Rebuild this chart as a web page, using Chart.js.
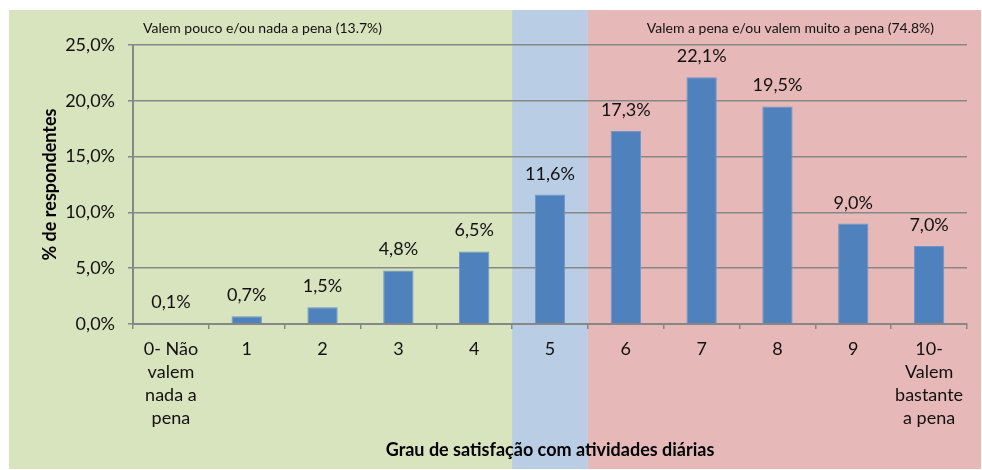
<!DOCTYPE html>
<html>
<head>
<meta charset="utf-8">
<script src="https://cdn.jsdelivr.net/npm/chart.js@4"></script>
<style>
  html, body { margin: 0; padding: 0; background: #fff; }
  #wrap { width: 982px; height: 470px; }
</style>
</head>
<body>
<div id="wrap"><canvas id="myChart" width="982" height="470"></canvas></div>
<script>
// Chart data
const categories = [
  ['0- Não', 'valem', 'nada a', 'pena'],
  '1', '2', '3', '4', '5', '6', '7', '8', '9',
  ['10-', 'Valem', 'bastante', 'a pena']
];
const percentValues = [0.1, 0.7, 1.5, 4.8, 6.5, 11.6, 17.3, 22.1, 19.5, 9.0, 7.0];
const yTicks = [0, 5, 10, 15, 20, 25];
const groupNotes = ['Valem pouco e/ou nada a pena (13.7%)', 'Valem a pena e/ou valem muito a pena (74.8%)'];
const xTitle = 'Grau de satisfação com atividades diárias';
const yTitle = '% de respondentes';

const FONT = 'Lato, "Open Sans", sans-serif';
const GRID = '#878787';
const TEXT = '#111';

function pct(v) {
  return v.toFixed(1).replace('.', ',') + '%';
}

// Coloured bands behind the chart + group notes on top
const bandsPlugin = {
  id: 'bands',
  beforeDraw(chart) {
    const ctx = chart.ctx;
    const x = chart.scales.x;
    const b1 = (x.getPixelForValue(4) + x.getPixelForValue(5)) / 2;
    const b2 = (x.getPixelForValue(5) + x.getPixelForValue(6)) / 2;
    const top = 10, bottom = chart.height - 1, left = 9, right = chart.width - 1;
    ctx.save();
    ctx.fillStyle = '#d7e4bd';
    ctx.fillRect(left, top, b1 - left, bottom - top);
    ctx.fillStyle = '#b9cde5';
    ctx.fillRect(b1, top, b2 - b1, bottom - top);
    ctx.fillStyle = '#e6b9b8';
    ctx.fillRect(b2, top, right - b2, bottom - top);

    ctx.fillStyle = TEXT;
    ctx.font = '14px ' + FONT;
    ctx.textAlign = 'center';
    ctx.textBaseline = 'middle';
    ctx.fillText(groupNotes[0], (left + b1) / 2 + 2, 28);
    ctx.fillText(groupNotes[1], (b2 + right) / 2 + 6, 28);
    ctx.restore();
  },
  afterDatasetsDraw(chart) {
    const ctx = chart.ctx;
    const meta = chart.getDatasetMeta(0);
    ctx.save();
    ctx.fillStyle = TEXT;
    ctx.font = '18px ' + FONT;
    ctx.textAlign = 'center';
    ctx.textBaseline = 'alphabetic';
    meta.data.forEach((bar, i) => {
      ctx.fillText(pct(percentValues[i]), bar.x, bar.y - 15);
    });
    ctx.restore();
  }
};

const ctx = document.getElementById('myChart').getContext('2d');
new Chart(ctx, {
  type: 'bar',
  data: {
    labels: categories,
    datasets: [{
      data: percentValues,
      backgroundColor: '#4f81bd',
      borderColor: '#7096c8',
      borderWidth: 1,
      categoryPercentage: 1,
      barPercentage: 0.4
    }]
  },
  options: {
    responsive: false,
    animation: false,
    layout: { padding: { left: 0, right: 15, top: 45, bottom: 0 } },
    plugins: {
      legend: { display: false },
      tooltip: { enabled: false }
    },
    scales: {
      x: {
        afterFit: (scale) => { scale.height = 146; },
        grid: {
          offset: true,
          drawOnChartArea: false,
          drawTicks: true,
          tickLength: 5,
          color: GRID,
          lineWidth: 1.5
        },
        border: { display: true, color: GRID, width: 2 },
        ticks: {
          autoSkip: false,
          maxRotation: 0,
          padding: 9,
          color: TEXT,
          font: { family: FONT, size: 18, lineHeight: 1.28 }
        },
        title: {
          display: true,
          text: xTitle,
          color: '#000',
          font: { family: FONT, size: 18, weight: 'bold' },
          padding: { top: 0, bottom: 9 }
        }
      },
      y: {
        min: yTicks[0],
        max: yTicks[yTicks.length - 1],
        afterFit: (scale) => { scale.width = 133; },
        afterBuildTicks: (scale) => { scale.ticks = yTicks.map(v => ({ value: v })); },
        grid: {
          color: GRID,
          lineWidth: 1.5,
          tickLength: 5
        },
        border: { display: true, color: GRID, width: 2 },
        ticks: {
          padding: 13,
          color: TEXT,
          font: { family: FONT, size: 18 },
          callback: (v) => pct(v)
        },
        title: {
          display: true,
          text: yTitle,
          color: '#000',
          font: { family: FONT, size: 18, weight: 'bold' },
          padding: { top: 39, bottom: 0 }
        }
      }
    }
  },
  plugins: [bandsPlugin]
});
</script>
</body>
</html>
